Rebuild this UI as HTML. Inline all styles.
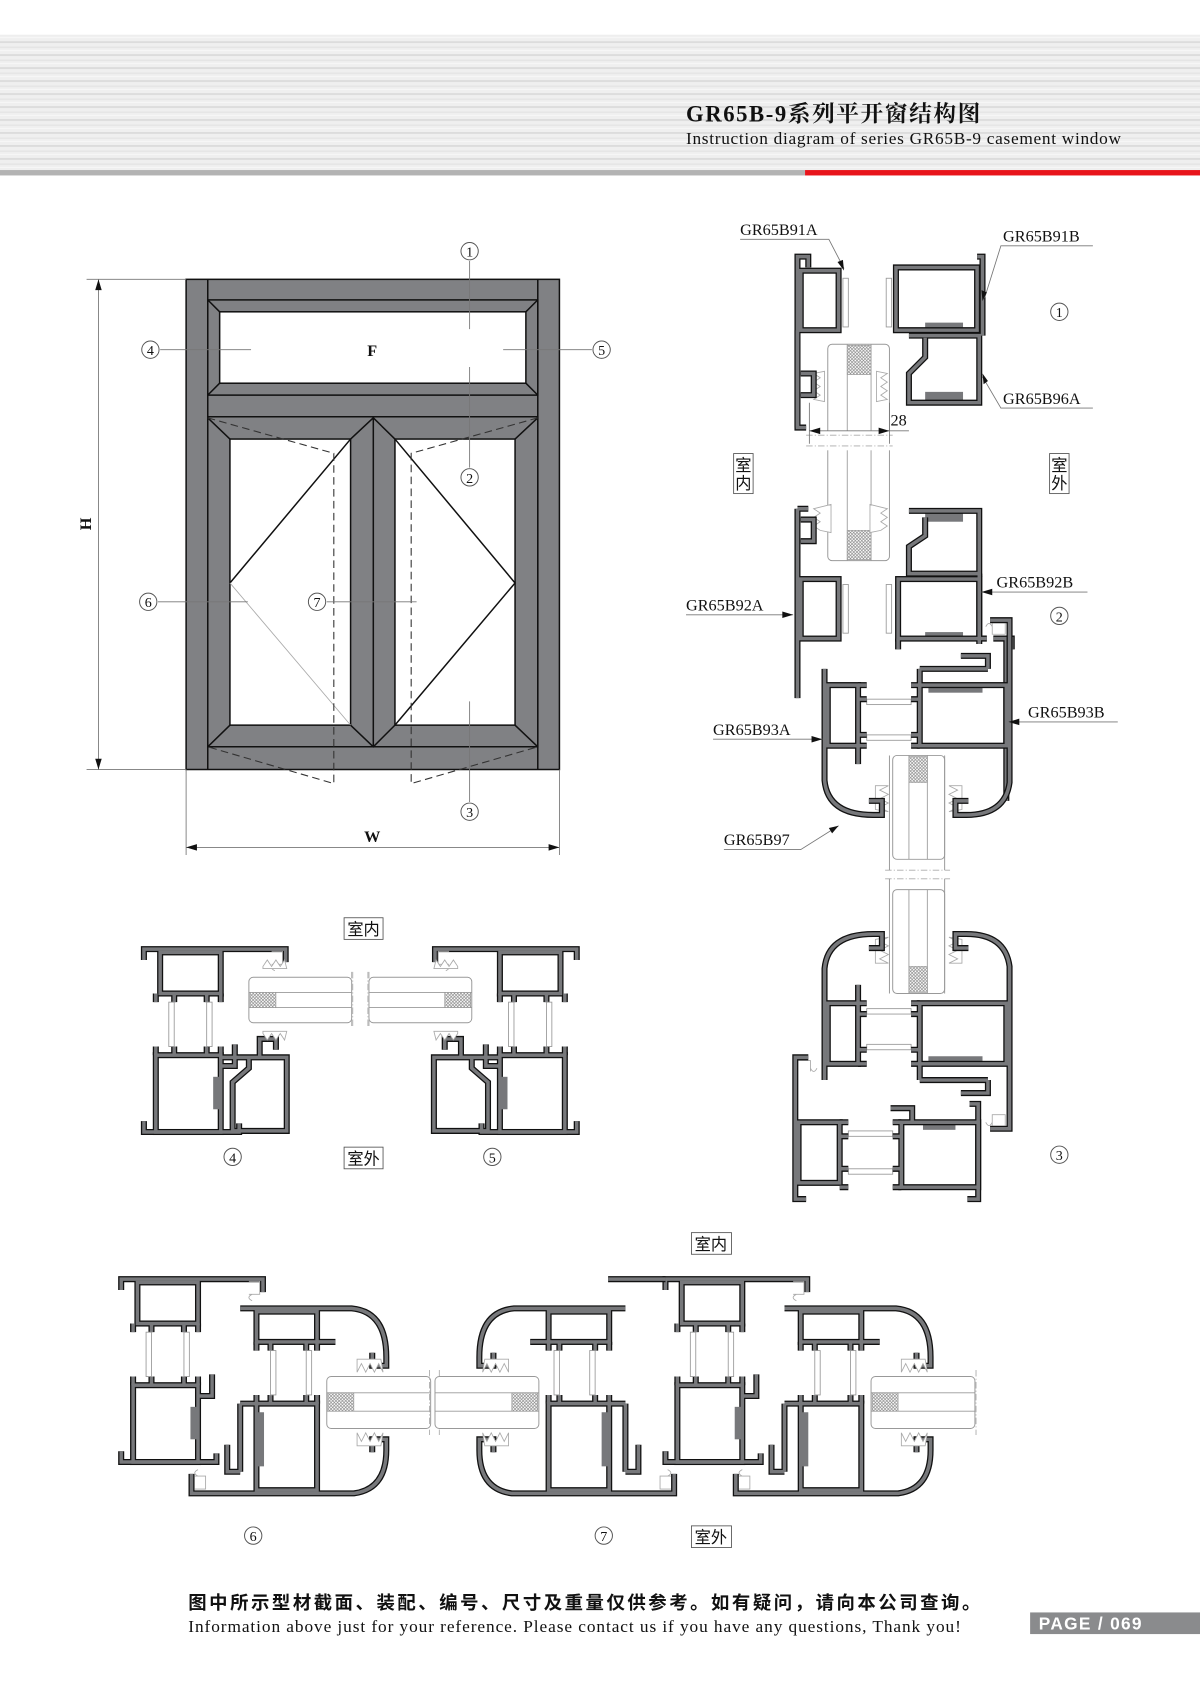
<!DOCTYPE html>
<html><head><meta charset="utf-8">
<style>
html,body{margin:0;padding:0;background:#fff;}
svg{display:block;}
.o{stroke:#111;stroke-width:5.6;fill:none;stroke-linejoin:miter;}
.i{stroke:#77787b;stroke-width:3.2;fill:none;stroke-linejoin:miter;}
.t{font-family:"Liberation Serif",serif;fill:#111;}
.ld{stroke:#777;stroke-width:0.8;fill:none;}
</style></head>
<body>
<svg width="1200" height="1697" viewBox="0 0 1109 1568" xmlns="http://www.w3.org/2000/svg">
<defs>
<pattern id="stripes" width="1109" height="12" patternUnits="userSpaceOnUse">
<rect width="1109" height="12" fill="#efefef"/>
<rect y="2" width="1109" height="1.5" fill="#d9d9d9"/>
<rect y="7" width="1109" height="1" fill="#e2e2e2"/>
<rect y="10" width="1109" height="0.8" fill="#fafafa"/>
</pattern>
<pattern id="hatch" width="3" height="3" patternUnits="userSpaceOnUse">
<rect width="3" height="3" fill="#fff"/>
<path d="M0,0 L3,3 M3,0 L0,3" stroke="#888" stroke-width="0.6"/>
</pattern>
<!-- frame profile in section-6 coords -->
<g id="F">
<path d="M112,1192 V1182 H243 V1194"/>
<rect x="127" y="1185" width="56" height="38"/>
<path d="M123,1223 V1231 M140,1223 V1231 M170,1223 V1231 M183,1223 V1231"/>
<path d="M123,1280 V1272 M140,1280 V1272 M170,1280 V1272 M183,1280 V1272"/>
<rect x="123" y="1280" width="60" height="71"/>
<path d="M112,1341 V1351 H200 V1343"/>
<path d="M183,1290 H196 V1270"/>
</g>
<g id="FS">
<rect x="135" y="1231" width="5" height="41" fill="#fff" stroke="#999" stroke-width="0.8"/>
<rect x="170" y="1231" width="5" height="41" fill="#fff" stroke="#999" stroke-width="0.8"/>
<rect x="176" y="1300" width="6" height="30" fill="#77787b"/>
<path d="M230,1184 h10 v12 h-10 M233,1196 q-6,3 0,6" stroke="#aaa" stroke-width="0.8" fill="none"/>
</g>
<!-- sash profile -->
<g id="S">
<path d="M222,1209 H325 Q357,1212 357,1254 V1262 H344 V1250"/>
<rect x="237" y="1212" width="56" height="28"/>
<path d="M237,1240 V1248 M250,1240 V1248 M283,1240 V1248 M293,1240 V1248"/>
<path d="M237,1297 V1289 M250,1297 V1289 M283,1297 V1289 M293,1297 V1289"/>
<rect x="237" y="1297" width="56" height="80"/>
<path d="M222,1297 H237 M222,1297 V1360 M210,1335 V1360 H222"/>
<path d="M177,1362 V1380 H327 Q357,1376 357,1340 V1330 H344 V1342"/>
<path d="M293,1240 H310"/>
</g>
<g id="SS">
<rect x="250" y="1248" width="5" height="41" fill="#fff" stroke="#999" stroke-width="0.8"/>
<rect x="283" y="1248" width="5" height="41" fill="#fff" stroke="#999" stroke-width="0.8"/>
<rect x="238" y="1305" width="6" height="50" fill="#77787b"/>
<rect x="302" y="1272" width="96" height="48" rx="4" fill="#fff" stroke="#999" stroke-width="0.9"/>
<path d="M302,1287 H398 M302,1304 H398" stroke="#999" stroke-width="0.8"/>
<rect x="303" y="1287" width="24" height="17" fill="url(#hatch)" stroke="#999" stroke-width="0.6"/>
<path d="M330,1268 l4,-8 l4,8 l4,-8 l4,8 l4,-8 l4,8 l-2,-12 h-22 z" fill="#fff" stroke="#aaa" stroke-width="0.8"/>
<path d="M330,1324 l4,8 l4,-8 l4,8 l4,-8 l4,8 l4,-8 l-2,12 h-22 z" fill="#fff" stroke="#aaa" stroke-width="0.8"/>
<path d="M180,1364 h10 v12 h-10 M183,1364 q-6,-3 0,-6" stroke="#aaa" stroke-width="0.8" fill="none"/>
</g>
<!-- section 4 fixed pieces -->
<g id="P4">
<use href="#F" transform="translate(21,-305)"/>
<path d="M205,977 H265 V1045 H215 V1000 L230,987 V977"/>
<path d="M240,977 V960 H255 V970"/>
</g>
<g id="P4S">
<use href="#FS" transform="translate(21,-305)"/>
<rect x="230" y="903" width="95" height="42" rx="4" fill="#fff" stroke="#999" stroke-width="0.9"/>
<path d="M230,917 H325 M230,931 H325" stroke="#999" stroke-width="0.8"/>
<rect x="231" y="917" width="24" height="14" fill="url(#hatch)" stroke="#999" stroke-width="0.6"/>
<path d="M325,898 V950 M340,898 V950" stroke="#aaa" stroke-width="0.8" stroke-dasharray="6,2,1,2"/>
<path d="M243,955 l4,6 l4,-6 l4,6 l4,-6 l4,6 l2,-8 h-22z" fill="#fff" stroke="#aaa" stroke-width="0.8"/>
<path d="M243,893 l4,-6 l4,6 l4,-6 l4,6 l4,-6 l2,8 h-22z" fill="#fff" stroke="#aaa" stroke-width="0.8"/>
</g>
<!-- top right section 1 & 2 -->
<g id="R12">
<path d="M747,247 V237 H737 V395 H745"/>
<rect x="740" y="250" width="35" height="55"/>
<path d="M737,305 V395 M740,345 h12 v20 h-12"/>
<path d="M903,237 H908 V310 M828,247 H903 V305 H828 Z"/>
<path d="M840,310 H905 V372 H840 V345 L855,330 V312"/>
<path d="M737,470 H747 M737,470 V645"/>
<rect x="740" y="535" width="35" height="55"/>
<path d="M740,480 h12 v20 h-12"/>
<path d="M840,472 H905 V530 H840 V505 L855,495 V478"/>
<rect x="830" y="535" width="75" height="55"/>
<path d="M905,530 V595 M830,590 V600 M905,590 H912 M930,590 V740 M918,590 H935 V600"/>
</g>
<g id="R12S">
<rect x="779" y="257" width="5" height="45" fill="#fff" stroke="#999" stroke-width="0.8"/>
<rect x="819" y="257" width="5" height="45" fill="#fff" stroke="#999" stroke-width="0.8"/>
<rect x="779" y="540" width="5" height="45" fill="#fff" stroke="#999" stroke-width="0.8"/>
<rect x="819" y="540" width="5" height="45" fill="#fff" stroke="#999" stroke-width="0.8"/>
<rect x="765" y="318" width="57" height="200" rx="4" fill="#fff" stroke="#999" stroke-width="0.9"/>
<path d="M783,318 V518 M805,318 V518" stroke="#999" stroke-width="0.8"/>
<rect x="783" y="319" width="22" height="27" fill="url(#hatch)" stroke="#999" stroke-width="0.6"/>
<rect x="783" y="490" width="22" height="27" fill="url(#hatch)" stroke="#999" stroke-width="0.6"/>
<rect x="745" y="398" width="80" height="18" fill="#fff"/>
<path d="M745,402 H825 M745,412 H825" stroke="#aaa" stroke-width="0.8" stroke-dasharray="6,2,1,2"/>
<path d="M752,345 l6,4 l-6,4 l6,4 l-6,4 l6,4 l-6,4 l10,2 v-28z" fill="#fff" stroke="#aaa" stroke-width="0.8"/>
<path d="M820,345 l-6,4 l6,4 l-6,4 l6,4 l-6,4 l6,4 l-10,2 v-28z" fill="#fff" stroke="#aaa" stroke-width="0.8"/>
<path d="M752,470 l6,4 l-6,4 l6,4 l-6,4 l6,4 l10,2 v-26z" fill="#fff" stroke="#aaa" stroke-width="0.8"/>
<path d="M820,470 l-6,4 l6,4 l-6,4 l6,4 l-6,4 l-10,2 v-26z" fill="#fff" stroke="#aaa" stroke-width="0.8"/>
<rect x="855" y="298" width="35" height="8" fill="#77787b"/>
<rect x="855" y="362" width="35" height="8" fill="#77787b"/>
<rect x="855" y="474" width="35" height="8" fill="#77787b"/>
<rect x="855" y="584" width="35" height="8" fill="#77787b"/>
</g>
</defs>

<!-- header -->
<rect x="0" y="32" width="1109" height="125" fill="url(#stripes)"/>
<rect x="0" y="157" width="744" height="5" fill="#b3b3b3"/>
<rect x="744" y="157" width="365" height="5" fill="#e8141b"/>
<text x="634" y="112" class="t" font-size="21" font-weight="bold" style="font-family:'Liberation Serif','Noto Serif CJK SC',serif" textLength="272">GR65B-9系列平开窗结构图</text>
<text x="634" y="133" class="t" font-size="16" textLength="402">Instruction diagram of series GR65B-9 casement window</text>

<!-- window elevation -->
<g stroke="#111" stroke-width="1.4">
<rect x="172" y="258" width="345" height="453" fill="#808184"/>
<rect x="192" y="277" width="305" height="88" fill="#808184"/>
<rect x="203" y="288" width="283" height="66" fill="#fff"/>
<path d="M192,277 L203,288 M497,277 L486,288 M192,365 L203,354 M497,365 L486,354" fill="none"/>
<path d="M192,385 H497 V690 H192 Z" fill="#808184"/>
<line x1="192" y1="258" x2="192" y2="711"/><line x1="497" y1="258" x2="497" y2="711"/>
<line x1="345" y1="386" x2="345" y2="690"/>
<rect x="212.5" y="405.6" width="111.5" height="264.4" fill="#fff"/>
<rect x="365" y="405.6" width="111" height="264.4" fill="#fff"/>
<path d="M192,386 L212.5,405.6 M324,405.6 L345,386 L365,405.6 M497,386 L476,405.6 M192,690 L212.5,670 M324,670 L345,690 L365,670 M497,690 L476,670" fill="none"/>
<path d="M324,405.6 L212.5,538.6 M365,405.6 L476,538.6 L365,670" fill="none"/>
</g>
<path d="M212.5,538.6 L324,670" stroke="#aaa" stroke-width="0.8"/>
<g stroke="#333" stroke-width="1" stroke-dasharray="7,4" fill="none">
<path d="M192,386 L308.5,418.8 V724 L192,690"/>
<path d="M497,386 L380,418.8 V724 L497,690"/>
</g>
<text x="344" y="329" class="t" font-size="15" font-weight="bold" text-anchor="middle">F</text>
<!-- markers -->
<g class="ld">
<path d="M434,241 V304 M434,339 V432 M434,648 V741"/>
<path d="M148,323 H232 M465,323 H547 M146,556 H229 M302,556 H385"/>
<path d="M80,258 H172 M80,711 H172 M91,258 V711 M172,711 V790 M517,711 V790 M172,783 H517"/>
</g>
<path d="M91,258 l-3,10 h6z M91,711 l-3,-10 h6z M172,783 l10,-3 v6z M517,783 l-10,-3 v6z" fill="#111"/>
<text x="84" y="484" class="t" font-size="15" font-weight="bold" text-anchor="middle" transform="rotate(-90 84 484)">H</text>
<text x="344" y="778" class="t" font-size="15" font-weight="bold" text-anchor="middle">W</text>
<g font-size="13" class="t" text-anchor="middle">
<g fill="#fff" stroke="#555" stroke-width="0.9">
<circle cx="434" cy="232" r="8"/><circle cx="434" cy="441" r="8"/><circle cx="434" cy="750" r="8"/>
<circle cx="139" cy="323" r="8"/><circle cx="556" cy="323" r="8"/><circle cx="137" cy="556" r="8"/><circle cx="293" cy="556" r="8"/>
<circle cx="979" cy="288" r="8"/><circle cx="979" cy="569" r="8"/><circle cx="979" cy="1067" r="8"/>
<circle cx="215" cy="1069" r="8"/><circle cx="455" cy="1069" r="8"/><circle cx="234" cy="1419" r="8"/><circle cx="558" cy="1419" r="8"/>
</g>
<text x="434" y="237">1</text><text x="434" y="446">2</text><text x="434" y="755">3</text>
<text x="139" y="328">4</text><text x="556" y="328">5</text><text x="137" y="561">6</text><text x="293" y="561">7</text>
<text x="979" y="293">1</text><text x="979" y="574">2</text><text x="979" y="1072">3</text>
<text x="215" y="1074">4</text><text x="455" y="1074">5</text><text x="234" y="1424">6</text><text x="558" y="1424">7</text>
</g>

<!-- section 4 / 5 -->
<use href="#P4" class="o"/><use href="#P4" class="i"/><use href="#P4S"/>
<g transform="matrix(-1,0,0,1,666,0)"><use href="#P4" class="o"/><use href="#P4" class="i"/><use href="#P4S"/></g>

<!-- section 6 -->
<use href="#F" class="o"/><use href="#F" class="i"/><use href="#FS"/>
<use href="#S" class="o"/><use href="#S" class="i"/><use href="#SS"/>
<path d="M397,1266 V1326 M406,1266 V1326" stroke="#aaa" stroke-width="0.8" stroke-dasharray="6,2,1,2"/>
<!-- section 7 -->
<g transform="matrix(-1,0,0,1,800,0)"><use href="#S" class="o"/><use href="#S" class="i"/><use href="#SS"/></g>
<g transform="translate(503,0)"><use href="#F" class="o"/><use href="#F" class="i"/><use href="#FS"/><use href="#S" class="o"/><use href="#S" class="i"/><use href="#SS"/></g>
<path d="M562,1182 H615" stroke="#111" stroke-width="5.6"/><path d="M562,1182 H615" stroke="#77787b" stroke-width="3.2"/>
<path d="M902,1266 V1326" stroke="#aaa" stroke-width="0.8" stroke-dasharray="6,2,1,2"/>

<!-- right column -->
<use href="#R12S"/><use href="#R12" class="o"/><use href="#R12" class="i"/>
<g transform="matrix(0,1,1,0,-447,396)"><use href="#SS"/><use href="#S" class="o"/><use href="#S" class="i"/></g>
<g transform="matrix(0,-1,1,0,-447,1220)"><use href="#FS"/><use href="#F" class="o"/><use href="#F" class="i"/><use href="#SS"/><use href="#S" class="o"/><use href="#S" class="i"/></g>
<rect x="818" y="800" width="60" height="16" fill="#fff"/>
<path d="M818,804 H878 M818,812 H878" stroke="#aaa" stroke-width="0.8" stroke-dasharray="6,2,1,2"/>
<path d="M822,698 V804 M873,698 V804 M822,812 V918 M873,812 V918" stroke="#999" stroke-width="0.9"/>
<!-- dim 28 -->
<path d="M748,372 V410 M822,372 V410 M748,398 H840" class="ld"/>
<path d="M748,398 l10,-3 v6z M822,398 l-10,-3 v6z" fill="#111"/>
<text x="823" y="393" class="t" font-size="15">28</text>

<!-- right labels -->
<g class="t" font-size="15">
<text x="684" y="217">GR65B91A</text>
<text x="927" y="223">GR65B91B</text>
<text x="927" y="373">GR65B96A</text>
<text x="921" y="543">GR65B92B</text>
<text x="634" y="564">GR65B92A</text>
<text x="950" y="663">GR65B93B</text>
<text x="659" y="679">GR65B93A</text>
<text x="669" y="781">GR65B97</text>
</g>
<g class="ld">
<path d="M684,221 H766 L780,248"/>
<path d="M1010,227 H925 L910,275"/>
<path d="M1010,377 H925 L908,348"/>
<path d="M1005,547 H907"/>
<path d="M634,568 H733"/>
<path d="M1033,667 H932"/>
<path d="M659,683 H760"/>
<path d="M669,785 H740 L775,763"/>
</g>
<path d="M780,250 l-6,-8 l5,-2z M908,278 l-1,-10 l5,2z M908,345 l1,10 l4,-3z M907,547 l10,-3 v6z M733,568 l-10,-3 v6z M932,667 l10,-3 v6z M760,683 l-10,-3 v6z M775,763 l-9,2 l3,5z" fill="#111"/>

<!-- indoor/outdoor boxes -->
<g fill="#fff" stroke="#555" stroke-width="0.8">
<rect x="678" y="419" width="18" height="37"/><rect x="970" y="419" width="18" height="37"/>
<rect x="318" y="848" width="36" height="20"/><rect x="318" y="1060" width="36" height="20"/>
<rect x="639" y="1139" width="37" height="20"/><rect x="639" y="1410" width="37" height="20"/>
</g>
<g class="t" font-size="15" style="font-family:'Noto Sans CJK SC',sans-serif" text-anchor="middle">
<text x="687" y="435">室</text><text x="687" y="452">内</text>
<text x="979" y="435">室</text><text x="979" y="452">外</text>
<text x="336" y="864">室内</text><text x="336" y="1076">室外</text>
<text x="657" y="1155">室内</text><text x="657" y="1426">室外</text>
</g>

<!-- footer -->
<text x="174" y="1487" font-size="17" font-weight="bold" fill="#111" style="font-family:'Noto Sans CJK SC',sans-serif" textLength="732">图中所示型材截面、装配、编号、尺寸及重量仅供参考。如有疑问，请向本公司查询。</text>
<text x="174" y="1508" class="t" font-size="16" textLength="714">Information above just for your reference. Please contact us if you have any questions, Thank you!</text>
<rect x="952" y="1490" width="157" height="20" fill="#8a8b8d"/>
<text x="960" y="1506" font-size="16" font-weight="bold" fill="#fff" style="font-family:'Liberation Sans Narrow','Liberation Sans',sans-serif" textLength="95">PAGE / 069</text>
</svg>
</body></html>
